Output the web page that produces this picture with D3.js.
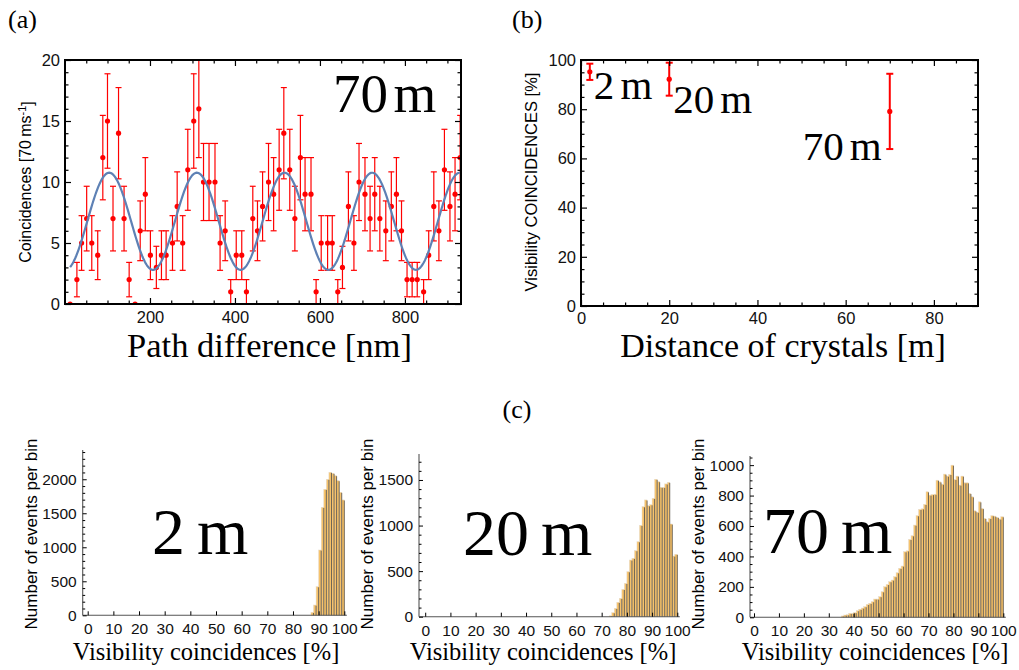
<!DOCTYPE html>
<html><head><meta charset="utf-8">
<script src="https://cdn.jsdelivr.net/npm/d3@7"></script>
<style>
body{margin:0;background:#fff}
svg{display:block}
</style></head><body>
<svg id="chart" width="1019" height="670"></svg>
<script>
// ---------- DATA ----------
// Panel (a): coincidences vs path difference (70 m)
const pathDiff = [12,28,39,51,63,77,89,100,113,126, 139,151,165,177,189,201,215,227,238,253,
  264,277,289,303,315,326,339,353,365,377, 390,403,416,427,442,453,465,479,491,504,
  515,529,541,554,565,579,591,603,618,629, 642,653,667,680,692,706,718,729,741,755,
  768,780,792,805,817,829,844,856,868,880, 893,906,918,930];
const coincidences = [0,2,5,7,5,4,12,15,7,14, 7,2,0,6,9,4,3,4,4,5,
  8,5,11,15,16,10,10,10,5,6, 1,4,4,1,7,6,8,10,9,11,
  14,11,7,12,9,9,1,5,5,5, 1,3,8,5,10,9,7,9,7,6,
  8,9,6,2,2,2,1,4,8,6, 11,8,9,12];
const coincErr = [0,1.41,2.24,2.65,2.24,2,3.46,3.87,2.65,3.74, 2.65,1.41,0,2.45,3,2,1.73,2,2,2.24,
  2.83,2.24,3.32,3.87,4,3.16,3.16,3.16,2.24,2.45, 1,2,2,1,2.65,2.45,2.83,3.16,3,3.32,
  3.74,3.32,2.65,3.46,3,3,1,2.24,2.24,2.24, 1,1.73,2.83,2.24,3.16,3,2.65,3,2.65,2.45,
  2.83,3,2.45,1.41,1.41,1.41,1,2,2.83,2.45, 3.32,2.83,3,3.46];
// fitted sinusoid parameters (mean, amplitude, period [nm], position of first maximum [nm])
const fitMean = 6.78, fitAmp = 3.98, fitPeriod = 206.3, fitPeak = 104;
const fitRange = [12, 932];

// Panel (b): visibility vs distance
const distances = [2, 20, 70];
const visibility = [95.2, 92.2, 79.1];
const visErr = [3.3, 6.7, 15.3];
const distLabels = ["2", "20", "70"];   // followed by unit "m"

// Panel (c): histograms (bin left edges in %, width 1 %)
const hist2mBins = d3.range(87, 100);
const hist2mCounts = [44,151,421,960,1588,1853,2000,2103,2088,2054,1980,1809,1696];
const hist20mBins = d3.range(73, 100);
const hist20mCounts = [10,44,92,158,202,300,366,494,622,641,725,823,1003,1207,1281,1218,1229,1299,1508,1482,1420,1420,1457,1475,1017,666,685];
const hist70mBins = d3.range(35, 100);
const hist70mCounts = [9,15,17,26,26,31,44,53,61,70,85,92,103,120,120,136,168,201,216,234,245,267,293,322,337,
  431,437,512,536,606,668,709,713,742,825,803,807,809,901,890,875,941,928,939,1000,906,928,869,928,884,884,
  814,792,700,691,759,715,650,628,650,668,665,657,646,661];
const histLabels = ["2", "20", "70"];   // followed by unit "m"

// ---------- DRAWING ----------
const SERIF = "'Liberation Serif','Times New Roman',serif";
const SANS = "'Liberation Sans',Arial,sans-serif";
const svg = d3.select("#chart");

function meters(sel, num, gap) {
  sel.append("tspan").text(num);
  sel.append("tspan").attr("dx", gap || "0.14em").text("m");
  return sel;
}
function styleAxis(sel, fs) {
  sel.select(".domain").remove();
  sel.selectAll(".tick line").attr("stroke", "#000").attr("stroke-width", 1.2);
  sel.selectAll(".tick text").attr("font-family", SANS).attr("font-size", fs).attr("fill", "#111");
}
function frame(box, x, y, c) {
  const g = svg.append("g");
  const none = () => "";
  const add = (tr, ax) => g.append("g").attr("transform", tr).call(ax).call(s => styleAxis(s, c.fs));
  add(`translate(0,${box.bottom})`, d3.axisBottom(x).tickValues(c.xMaj).tickSize(-6).tickPadding(c.padX).tickFormat(d3.format("d")));
  add(`translate(0,${box.bottom})`, d3.axisBottom(x).tickValues(c.xMin).tickSize(-3.5).tickFormat(none));
  add(`translate(0,${box.top})`, d3.axisTop(x).tickValues(c.xMaj).tickSize(-6).tickFormat(none));
  add(`translate(0,${box.top})`, d3.axisTop(x).tickValues(c.xMin).tickSize(-3.5).tickFormat(none));
  add(`translate(${box.left},0)`, d3.axisLeft(y).tickValues(c.yMaj).tickSize(-6).tickPadding(c.padY).tickFormat(d3.format("d")));
  add(`translate(${box.left},0)`, d3.axisLeft(y).tickValues(c.yMin).tickSize(-3.5).tickFormat(none));
  add(`translate(${box.right},0)`, d3.axisRight(y).tickValues(c.yMaj).tickSize(-6).tickFormat(none));
  add(`translate(${box.right},0)`, d3.axisRight(y).tickValues(c.yMin).tickSize(-3.5).tickFormat(none));
  g.append("rect").attr("x", box.left).attr("y", box.top)
    .attr("width", box.right - box.left).attr("height", box.bottom - box.top)
    .attr("fill", "none").attr("stroke", "#000").attr("stroke-width", 2);
}
function errorBars(g, xs, ys, es, x, y, cap, sw) {
  xs.forEach((xv, i) => {
    if (es[i] <= 0) return;
    const px = x(xv), y1 = y(ys[i] - es[i]), y2 = y(ys[i] + es[i]);
    g.append("line").attr("x1", px).attr("x2", px).attr("y1", y1).attr("y2", y2);
    g.append("line").attr("x1", px - cap).attr("x2", px + cap).attr("y1", y1).attr("y2", y1);
    g.append("line").attr("x1", px - cap).attr("x2", px + cap).attr("y1", y2).attr("y2", y2);
  });
  g.attr("stroke", "#f00").attr("stroke-width", sw);
}

// ----- Panel (a) -----
const A = {left: 65, right: 461, top: 60, bottom: 304};
const xA = d3.scaleLinear().domain([0, 932]).range([A.left, A.right]);
const yA = d3.scaleLinear().domain([0, 20]).range([A.bottom, A.top]);
svg.append("clipPath").attr("id", "clipA").append("rect")
  .attr("x", A.left).attr("y", A.top).attr("width", A.right - A.left).attr("height", A.bottom - A.top);
const gA = svg.append("g").attr("clip-path", "url(#clipA)");
errorBars(gA.append("g"), pathDiff, coincidences, coincErr, xA, yA, 3, 1.2);
gA.append("g").selectAll("circle").data(pathDiff).join("circle")
  .attr("cx", d => xA(d)).attr("cy", (d, i) => yA(coincidences[i])).attr("r", 2.6).attr("fill", "#f00");
const fitX = d3.range(fitRange[0], fitRange[1] + 0.1, 2);
gA.append("path").datum(fitX)
  .attr("d", d3.line().x(d => xA(d)).y(d => yA(fitMean + fitAmp * Math.cos(2 * Math.PI * (d - fitPeak) / fitPeriod))))
  .attr("fill", "none").attr("stroke", "#5e81b5").attr("stroke-width", 2.2);
frame(A, xA, yA, {fs: 16.5, padX: 7, padY: 5,
  xMaj: [200, 400, 600, 800], xMin: d3.range(50, 932, 50).filter(v => v % 200),
  yMaj: [0, 5, 10, 15, 20], yMin: d3.range(1, 20).filter(v => v % 5)});
meters(svg.append("text").attr("x", 333).attr("y", 112)
  .attr("font-family", SERIF).attr("font-size", 55), "70", "0.1em");
svg.append("text").attr("x", 269.5).attr("y", 357).attr("text-anchor", "middle")
  .attr("font-family", SERIF).attr("font-size", 34.5).text("Path difference [nm]");
const yLabA = svg.append("text").attr("transform", "translate(25,182) rotate(-90)")
  .attr("text-anchor", "middle").attr("dy", "0.35em").attr("font-family", SANS).attr("font-size", 16);
yLabA.append("tspan").text("Coincidences [70\u2009ms");
yLabA.append("tspan").attr("dy", "-0.45em").attr("font-size", 11).text("-1");
yLabA.append("tspan").attr("dy", "0.45em").text("]");
svg.append("text").attr("x", 8).attr("y", 28).attr("font-family", SERIF).attr("font-size", 26).text("(a)");

// ----- Panel (b) -----
const B = {left: 581, right: 978, top: 60, bottom: 306};
const xB = d3.scaleLinear().domain([0, 90]).range([B.left, B.right]);
const yB = d3.scaleLinear().domain([0, 100]).range([B.bottom, B.top]);
const gB = svg.append("g");
errorBars(gB.append("g"), distances, visibility, visErr, xB, yB, 3.5, 2);
gB.append("g").selectAll("circle").data(distances).join("circle")
  .attr("cx", d => xB(d)).attr("cy", (d, i) => yB(visibility[i])).attr("r", 2.6).attr("fill", "#f00");
frame(B, xB, yB, {fs: 16.5, padX: 6, padY: 5,
  xMaj: [0, 20, 40, 60, 80], xMin: d3.range(5, 90, 5).filter(v => v % 20),
  yMaj: [0, 20, 40, 60, 80, 100], yMin: d3.range(5, 100, 5).filter(v => v % 20)});
const labB = [{dx: 4, dy: 27, anchor: "start"}, {dx: 4, dy: 34, anchor: "start"}, {dx: -8, dy: 49, anchor: "end"}];
distLabels.forEach((t, i) => {
  meters(svg.append("text").attr("x", xB(distances[i]) + labB[i].dx).attr("y", yB(visibility[i]) + labB[i].dy)
    .attr("text-anchor", labB[i].anchor).attr("font-family", SERIF).attr("font-size", 41), t, "0.15em");
});
svg.append("text").attr("x", 783).attr("y", 357).attr("text-anchor", "middle")
  .attr("font-family", SERIF).attr("font-size", 34).text("Distance of crystals [m]");
svg.append("text").attr("transform", "translate(531,182) rotate(-90)")
  .attr("text-anchor", "middle").attr("dy", "0.35em").attr("font-family", SANS).attr("font-size", 16.5)
  .text("Visibility COINCIDENCES [%]");
svg.append("text").attr("x", 512).attr("y", 28).attr("font-family", SERIF).attr("font-size", 26).text("(b)");

// ----- Panel (c) -----
svg.append("text").attr("x", 517).attr("y", 418).attr("text-anchor", "middle")
  .attr("font-family", SERIF).attr("font-size", 26).text("(c)");

const hists = [
  {bins: hist2mBins, counts: hist2mCounts, axisX: 82.7, x0: 87.7, x100: 344.3, y0: 615.3, yTop: 2430, yTopPx: 450,
   yMaj: [0, 500, 1000, 1500, 2000], yMinStep: 100, ylabX: 31, xlabX: 206, lab: {x: 152, y: 554}},
  {bins: hist20mBins, counts: hist20mCounts, axisX: 419, x0: 425.2, x100: 677.3, y0: 616.7, yTop: 1785, yTopPx: 454,
   yMaj: [0, 500, 1000, 1500], yMinStep: 100, ylabX: 367, xlabX: 543, lab: {x: 463, y: 555}},
  {bins: hist70mBins, counts: hist70mCounts, axisX: 750, x0: 754, x100: 1003.3, y0: 617.3, yTop: 1060, yTopPx: 456,
   yMaj: [0, 200, 400, 600, 800, 1000], yMinStep: 50, ylabX: 698, xlabX: 875, lab: {x: 763, y: 553}}
];
hists.forEach((h, hi) => {
  const x = d3.scaleLinear().domain([0, 100]).range([h.x0, h.x100]);
  const y = d3.scaleLinear().domain([0, h.yTop]).range([h.y0, h.yTopPx]);
  const g = svg.append("g");
  g.selectAll("rect").data(h.bins).join("rect")
    .attr("x", d => x(d)).attr("width", d => x(d + 1) - x(d))
    .attr("y", (d, i) => y(h.counts[i])).attr("height", (d, i) => h.y0 - y(h.counts[i]))
    .attr("fill", "#f7c36c").attr("stroke", "#e6dccb").attr("stroke-width", 0.5);
  g.selectAll("line.edge").data(h.bins).join("line").attr("class", "edge")
    .attr("x1", d => x(d + 1)).attr("x2", d => x(d + 1))
    .attr("y1", h.y0).attr("y2", (d, i) => y(h.counts[i]) + 0.6)
    .attr("stroke", "#3a3226").attr("stroke-width", 0.7);
  // axes lines
  g.append("line").attr("x1", h.axisX).attr("x2", x(101)).attr("y1", h.y0).attr("y2", h.y0)
    .attr("stroke", "#555").attr("stroke-width", 1.1);
  g.append("line").attr("x1", h.axisX).attr("x2", h.axisX).attr("y1", h.y0).attr("y2", h.yTopPx)
    .attr("stroke", "#555").attr("stroke-width", 1.1);
  g.append("g").attr("transform", `translate(0,${h.y0})`)
    .call(d3.axisBottom(x).tickValues(d3.range(0, 101, 10)).tickSize(-4).tickPadding(8).tickFormat(d3.format("d")))
    .call(s => styleAxis(s, 15.5));
  g.append("g").attr("transform", `translate(${h.axisX},0)`)
    .call(d3.axisLeft(y).tickValues(h.yMaj).tickSize(-4).tickPadding(6).tickFormat(d3.format("d")))
    .call(s => styleAxis(s, 15.5));
  g.append("g").attr("transform", `translate(${h.axisX},0)`)
    .call(d3.axisLeft(y).tickValues(d3.range(h.yMinStep, h.yTop, h.yMinStep).filter(v => !h.yMaj.includes(v))).tickSize(-2.5).tickFormat(() => ""))
    .call(s => styleAxis(s, 15.5));
  g.selectAll(".tick line").attr("stroke-width", 1);
  svg.append("text").attr("transform", `translate(${h.ylabX},534) rotate(-90)`)
    .attr("text-anchor", "middle").attr("dy", "0.35em").attr("font-family", SANS).attr("font-size", 17)
    .text("Number of events per bin");
  svg.append("text").attr("x", h.xlabX).attr("y", 660).attr("text-anchor", "middle")
    .attr("font-family", SERIF).attr("font-size", 24.5).text("Visibility coincidences [%]");
  meters(svg.append("text").attr("x", h.lab.x).attr("y", h.lab.y)
    .attr("font-family", SERIF).attr("font-size", 66), histLabels[hi], "0.18em");
});
</script>
</body></html>
